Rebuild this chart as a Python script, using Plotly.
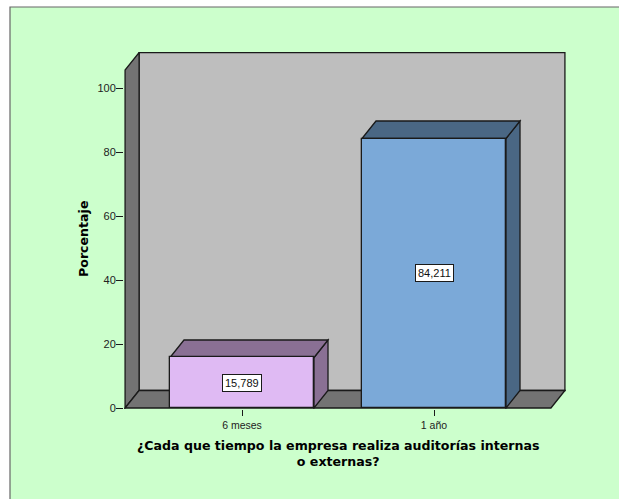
import plotly.graph_objects as go

categories = ["6 meses", "1 año"]
values = [15.789, 84.211]
y_ticks = [0, 20, 40, 60, 80, 100]
x_title = "¿Cada que tiempo la empresa realiza auditorías internas<br>o externas?"
y_title = "Porcentaje"

front_colors = ["#DFBAF3", "#7BA9D8"]
side_colors = ["#8A7094", "#4A6784"]
WALL = "#BEBEBE"
WALL_DARK = "#737373"
BG = "#CCFFCC"
INK = "#1A1A1A"

PX_X, PX_Y = 192, 3.2          # pixels per category / per percent
DX, DY = 14 / PX_X, 17.5 / PX_Y  # 3D depth in data units
BAR = 0.75
X0, X1 = -0.609, 1.609         # front floor extent
YTOP = 105.6                   # front wall top
xs = list(range(len(categories)))


def poly(points, fill):
    path = "M" + " L".join(f"{x:.4f},{y:.4f}" for x, y in points) + " Z"
    return dict(type="path", path=path, xref="x", yref="y", fillcolor=fill,
                line=dict(color=INK, width=1.3), layer="below")


L, T, R, B = 124, 52, 53, 90
W, H = 619, 499
pw, ph = W - L - R, H - T - B


def paper_x(px):
    return (px - L) / pw


def paper_y(py):
    return (H - B - py) / ph


shapes = [dict(type="rect", xref="paper", yref="paper",
               x0=paper_x(10), x1=paper_x(640), y0=paper_y(7), y1=paper_y(520),
               fillcolor=BG, line=dict(color="#666666", width=1.2), layer="below")]
shapes.append(poly([(X0 + DX, DY), (X1 + DX, DY), (X1 + DX, YTOP + DY), (X0 + DX, YTOP + DY)], WALL))
shapes.append(poly([(X0, 0), (X0, YTOP), (X0 + DX, YTOP + DY), (X0 + DX, DY)], WALL_DARK))
shapes.append(poly([(X0, 0), (X0 + DX, DY), (X1 + DX, DY), (X1, 0)], WALL_DARK))
for x, v, side in zip(xs, values, side_colors):
    l, r = x - BAR / 2, x + BAR / 2
    shapes.append(poly([(r, 0), (r, v), (r + DX, v + DY), (r + DX, DY)], side))
    shapes.append(poly([(l, v), (l + DX, v + DY), (r + DX, v + DY), (r, v)], side))

annotations = [
    dict(x=x, y=v / 2, xref="x", yref="y", text=f"{v:.3f}".replace(".", ","), showarrow=False,
         bgcolor="white", bordercolor=INK, borderwidth=1, borderpad=2,
         font=dict(family="Liberation Sans", size=11, color="#111111"))
    for x, v in zip(xs, values)
]
annotations.append(dict(xref="paper", yref="paper", x=paper_x(338), y=paper_y(453), text=x_title,
                        showarrow=False, align="center", xanchor="center", yanchor="middle",
                        font=dict(family="DejaVu Sans", size=12.6, color="black", weight="bold")))
annotations.append(dict(xref="paper", yref="paper", x=paper_x(83), y=paper_y(239), text=y_title,
                        textangle=-90, showarrow=False, xanchor="center", yanchor="middle",
                        font=dict(family="DejaVu Sans", size=12.6, color="black", weight="bold")))

fig = go.Figure(go.Bar(x=xs, y=values, width=BAR, marker=dict(color=front_colors, line=dict(color=INK, width=1.3)),
                       hoverinfo="skip"))
fig.update_layout(
    width=W, height=H, autosize=False,
    margin=dict(l=L, r=R, t=T, b=B, pad=0),
    paper_bgcolor="white", plot_bgcolor="rgba(0,0,0,0)",
    showlegend=False, shapes=shapes, annotations=annotations, bargap=0,
    font=dict(family="Liberation Sans", size=10, color="#222222"),
)
fig.update_xaxes(range=[-118 / PX_X, 324 / PX_X], tickmode="array", tickvals=xs, ticktext=categories,
                 ticks="outside", ticklen=6, tickcolor=INK, tickwidth=1, showgrid=False, zeroline=False,
                 showline=False, tickfont=dict(size=10.5))
fig.update_yaxes(range=[-1 / PX_Y, 356 / PX_Y], tickmode="array", tickvals=y_ticks,
                 ticks="outside", ticklen=7, tickcolor=INK, tickwidth=1, showgrid=False, zeroline=False,
                 showline=False, tickfont=dict(size=11), ticklabelstandoff=-2)
fig.write_html("out.html", config=dict(displayModeBar=False),
               post_script="document.body.style.margin='0';document.body.style.overflow='hidden';")
